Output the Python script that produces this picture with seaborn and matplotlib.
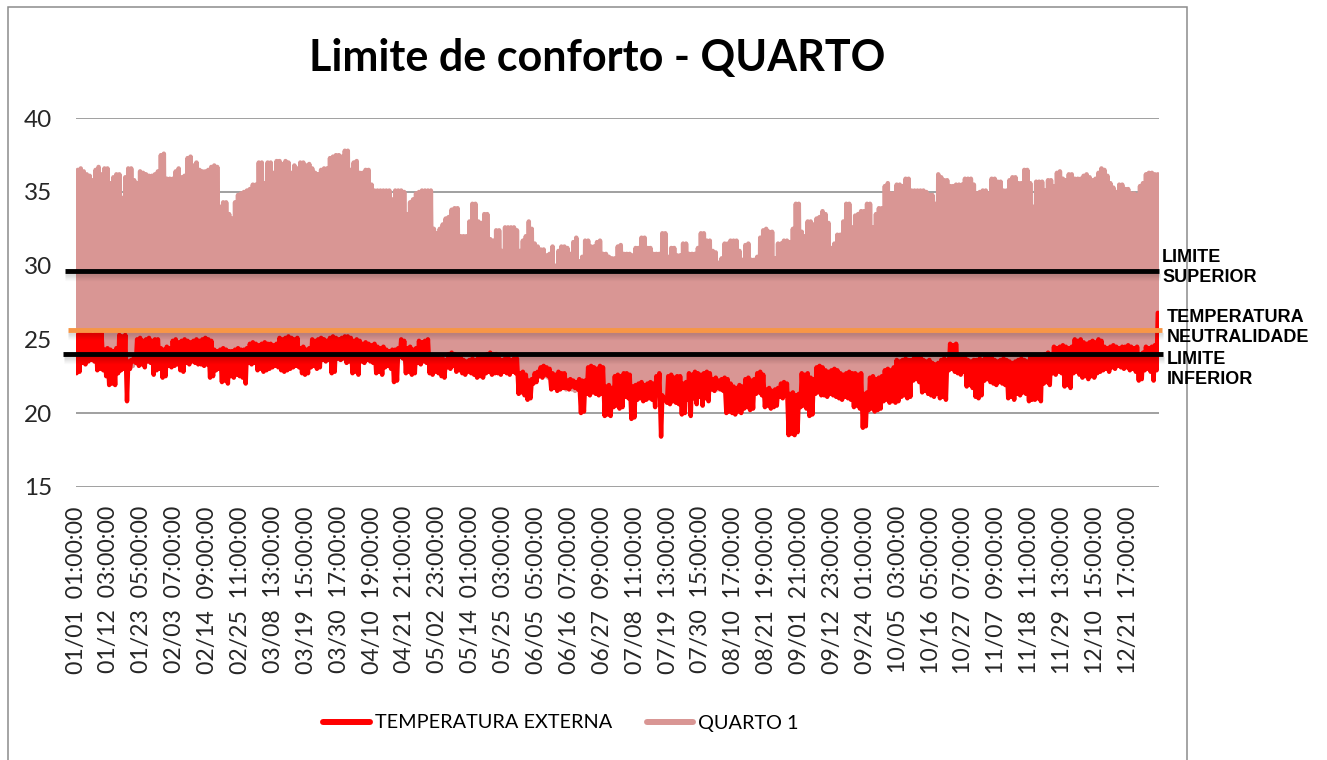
import numpy as np
import pandas as pd
import matplotlib
matplotlib.use("Agg")
import matplotlib.pyplot as plt
import matplotlib.transforms as mtransforms
from matplotlib.lines import Line2D
from matplotlib.patches import Rectangle
import seaborn as sns

# ---------------------------------------------------------------- data
TITLE = "Limite de conforto - QUARTO"
NAME_EXT = "TEMPERATURA EXTERNA"
NAME_ROOM = "QUARTO 1"
YTICKS = [15, 20, 25, 30, 35, 40]
XTICK_LABELS = [
    "01/01  01:00:00", "01/12  03:00:00", "01/23  05:00:00", "02/03  07:00:00",
    "02/14  09:00:00", "02/25  11:00:00", "03/08  13:00:00", "03/19  15:00:00",
    "03/30  17:00:00", "04/10  19:00:00", "04/21  21:00:00", "05/02  23:00:00",
    "05/14  01:00:00", "05/25  03:00:00", "06/05  05:00:00", "06/16  07:00:00",
    "06/27  09:00:00", "07/08  11:00:00", "07/19  13:00:00", "07/30  15:00:00",
    "08/10  17:00:00", "08/21  19:00:00", "09/01  21:00:00", "09/12  23:00:00",
    "09/24  01:00:00", "10/05  03:00:00", "10/16  05:00:00", "10/27  07:00:00",
    "11/07  09:00:00", "11/18  11:00:00", "11/29  13:00:00", "12/10  15:00:00",
    "12/21  17:00:00",
]
LABEL_INTERVAL = 266          # hours between category labels
N_HOURS = 8760

LIMITE_SUPERIOR = 29.65
TEMP_NEUTRALIDADE = 25.6
LIMITE_INFERIOR = 24.0

# daily maximum of the room temperature (QUARTO 1), 1 Jan .. 31 Dec
QUARTO_MAX = [
    36.5, 36.6, 36.4, 36.2, 36.1, 35.8, 36.5, 36.7, 36.2, 36.6,
    36.6, 35.6, 36.0, 36.2, 36.2, 34.6, 36.0, 36.6, 36.6, 35.8,
    35.6, 36.4, 36.3, 36.2, 36.1, 36.1, 36.2, 36.4, 37.5, 37.6,
    35.9, 35.9, 35.9, 36.4, 36.6, 36.0, 36.1, 37.3, 37.4, 36.8,
    37.0, 36.5, 36.4, 36.4, 36.5, 36.7, 36.8, 36.7, 34.0, 34.3,
    34.3, 33.5, 33.2, 34.3, 34.8, 34.9, 35.0, 35.1, 35.2, 35.5,
    35.5, 37.0, 37.0, 35.6, 37.0, 37.0, 36.3, 37.1, 37.1, 36.9,
    37.1, 37.0, 36.3, 36.8, 36.6, 37.0, 37.0, 36.8, 36.9, 36.6,
    36.3, 36.2, 36.5, 36.6, 36.6, 37.3, 37.4, 37.5, 37.5, 37.4,
    37.8, 37.8, 36.5, 37.0, 37.1, 36.3, 36.3, 36.5, 36.5, 35.5,
    35.1, 35.1, 35.1, 35.1, 35.1, 35.1, 34.5, 35.1, 35.1, 35.1,
    35.0, 33.5, 34.3, 34.5, 34.9, 35.0, 35.1, 35.1, 35.1, 35.1,
    32.5, 32.2, 32.5, 32.8, 33.2, 33.3, 33.8, 33.9, 33.9, 32.0,
    32.0, 32.0, 33.0, 34.2, 34.2, 33.0, 32.9, 33.5, 33.5, 31.8,
    31.7, 32.4, 32.4, 31.0, 32.6, 32.6, 32.6, 32.6, 32.4, 31.0,
    31.7, 32.0, 33.0, 32.5, 31.5, 31.3, 31.1, 31.1, 30.7, 30.8,
    31.3, 30.0, 31.0, 31.3, 31.3, 31.2, 30.8, 31.6, 31.9, 30.3,
    30.6, 31.7, 31.7, 31.3, 31.3, 31.6, 31.7, 30.8, 30.8, 30.6,
    30.5, 30.5, 31.3, 31.4, 30.8, 30.8, 30.8, 30.7, 31.2, 31.2,
    31.9, 31.9, 31.2, 31.2, 30.8, 30.8, 30.8, 32.2, 32.2, 30.6,
    31.2, 31.2, 30.7, 30.7, 31.5, 31.5, 30.8, 30.8, 30.8, 31.2,
    32.2, 32.2, 31.7, 31.7, 31.0, 30.9, 30.2, 30.5, 31.5, 31.5,
    31.7, 31.7, 31.7, 31.0, 30.4, 31.4, 31.5, 30.4, 30.4, 30.6,
    31.9, 32.4, 32.5, 32.3, 32.3, 30.5, 31.5, 31.5, 31.7, 31.7,
    31.6, 32.5, 34.2, 34.2, 32.3, 32.0, 33.0, 33.0, 32.8, 33.2,
    33.3, 33.7, 33.5, 32.9, 31.2, 31.5, 32.1, 32.1, 33.0, 34.2,
    34.2, 32.6, 33.4, 33.5, 33.7, 33.7, 34.2, 34.2, 32.6, 33.5,
    33.9, 33.9, 35.4, 35.6, 34.9, 34.9, 35.5, 35.5, 35.4, 35.9,
    35.9, 35.1, 35.1, 35.1, 35.1, 35.1, 35.0, 34.8, 34.8, 34.2,
    36.2, 36.0, 35.8, 35.8, 35.4, 35.4, 35.5, 35.5, 35.5, 35.9,
    35.9, 35.9, 35.5, 34.9, 35.0, 35.1, 35.1, 34.9, 35.9, 35.9,
    35.7, 35.7, 35.1, 35.1, 35.8, 36.0, 36.0, 35.6, 35.6, 36.5,
    36.5, 35.6, 34.0, 35.7, 35.7, 35.7, 35.1, 35.8, 35.8, 35.4,
    36.3, 36.4, 35.9, 35.8, 36.2, 36.2, 35.9, 35.9, 35.9, 36.1,
    36.2, 36.0, 35.8, 35.9, 36.3, 36.6, 36.5, 36.1, 35.6, 35.3,
    35.0, 35.5, 35.5, 35.2, 35.2, 34.9, 34.9, 34.8, 35.4, 35.6,
    36.2, 36.3, 36.3, 36.2, 36.2,
]

# daily minimum of the room temperature (QUARTO 1)
QUARTO_MIN = [
    24.7, 24.9, 24.8, 24.8, 24.9, 24.7, 24.8, 24.9, 24.8, 23.7,
    23.8, 23.7, 23.6, 23.8, 24.7, 24.6, 24.7, 22.9, 23.0, 23.2,
    24.4, 24.5, 24.3, 24.4, 24.5, 24.3, 24.4, 24.4, 23.8, 23.7,
    23.9, 23.8, 24.3, 24.4, 24.2, 24.3, 24.4, 24.3, 24.2, 24.3,
    24.4, 24.3, 24.4, 24.5, 24.4, 24.3, 23.7, 23.6, 23.7, 23.8,
    23.7, 23.6, 23.6, 23.7, 23.8, 23.7, 23.7, 23.8, 24.1, 24.2,
    24.1, 24.0, 24.1, 24.2, 24.1, 24.1, 24.0, 24.1, 24.5, 24.4,
    24.5, 24.6, 24.5, 24.4, 24.5, 23.8, 23.9, 23.7, 23.8, 24.4,
    24.3, 24.4, 24.5, 24.4, 24.3, 24.5, 24.6, 24.5, 24.4, 24.5,
    24.6, 24.6, 24.5, 24.3, 24.4, 24.3, 24.1, 24.2, 24.1, 24.0,
    24.1, 23.9, 23.8, 23.9, 23.7, 23.6, 23.7, 23.7, 23.8, 24.4,
    24.3, 23.8, 23.9, 23.7, 23.8, 24.3, 24.2, 24.3, 24.4, 23.2,
    23.3, 23.2, 23.1, 23.1, 23.0, 23.4, 23.5, 23.4, 23.2, 23.2,
    23.0, 22.9, 23.0, 23.1, 23.0, 23.2, 23.3, 23.2, 23.4, 23.5,
    23.4, 23.4, 23.1, 23.0, 23.1, 23.2, 23.0, 23.1, 23.1, 22.1,
    22.2, 22.0, 21.6, 21.7, 22.1, 22.2, 22.5, 22.6, 22.5, 22.4,
    22.1, 22.0, 22.2, 22.1, 22.1, 21.6, 21.7, 21.6, 21.5, 21.7,
    21.6, 21.6, 22.5, 22.6, 22.5, 22.4, 22.6, 22.5, 21.2, 21.3,
    21.1, 21.9, 22.0, 21.9, 22.1, 22.1, 22.0, 21.2, 21.3, 21.4,
    21.5, 21.3, 21.4, 21.5, 21.4, 21.9, 22.1, 20.6, 20.95, 21.9,
    22.0, 21.8, 21.9, 21.9, 21.4, 21.5, 22.1, 22.0, 22.2, 22.1,
    22.0, 22.1, 22.2, 22.1, 21.7, 21.8, 21.6, 21.7, 21.8, 21.7,
    21.4, 21.2, 21.1, 21.3, 21.2, 21.7, 21.8, 21.6, 21.7, 22.1,
    22.2, 22.0, 21.0, 21.1, 20.9, 21.0, 21.1, 21.4, 21.5, 21.4,
    20.7, 20.8, 20.6, 20.7, 22.1, 22.0, 22.1, 21.8, 21.7, 22.5,
    22.6, 22.5, 22.3, 22.2, 22.3, 22.4, 22.3, 22.1, 22.0, 22.1,
    22.2, 22.1, 22.1, 22.0, 22.1, 20.7, 20.8, 21.8, 21.9, 21.7,
    21.8, 21.9, 22.3, 22.4, 22.3, 22.5, 23.0, 22.9, 23.0, 23.1,
    23.0, 23.0, 23.2, 23.3, 23.2, 23.0, 22.9, 23.0, 22.8, 22.7,
    22.8, 23.0, 23.1, 23.0, 24.1, 24.0, 24.1, 23.2, 23.3, 23.2,
    23.0, 22.9, 23.0, 23.0, 23.1, 23.0, 23.2, 23.3, 23.2, 23.0,
    22.9, 23.0, 23.1, 23.0, 22.9, 22.8, 22.9, 23.0, 23.1, 23.0,
    22.9, 23.2, 23.3, 23.2, 23.2, 23.3, 23.4, 23.5, 23.4, 23.9,
    23.8, 23.9, 24.0, 23.9, 23.8, 23.9, 24.4, 24.3, 24.4, 24.2,
    24.1, 24.2, 24.3, 24.2, 24.4, 24.3, 23.9, 23.8, 23.9, 24.0,
    23.9, 23.8, 23.9, 23.9, 24.0, 23.9, 23.8, 23.9, 23.4, 23.5,
    23.9, 23.8, 23.9, 24.0, 24.0,
]

# daily maximum of the outdoor temperature
EXTERNA_MAX = [
    25.3, 25.5, 25.4, 25.4, 25.5, 25.3, 25.4, 25.5, 25.4, 24.3,
    24.4, 24.3, 24.2, 24.4, 25.3, 25.2, 25.3, 23.5, 23.6, 23.8,
    25.0, 25.1, 24.9, 25.0, 25.1, 24.9, 25.0, 25.0, 24.4, 24.3,
    24.5, 24.4, 24.9, 25.0, 24.8, 24.9, 25.0, 24.9, 24.8, 24.9,
    25.0, 24.9, 25.0, 25.1, 25.0, 24.9, 24.3, 24.2, 24.3, 24.4,
    24.3, 24.2, 24.2, 24.3, 24.4, 24.3, 24.3, 24.4, 24.7, 24.8,
    24.7, 24.6, 24.7, 24.8, 24.7, 24.7, 24.6, 24.7, 25.1, 25.0,
    25.1, 25.2, 25.1, 25.0, 25.1, 24.4, 24.5, 24.3, 24.4, 25.0,
    24.9, 25.0, 25.1, 25.0, 24.9, 25.1, 25.2, 25.1, 25.0, 25.1,
    25.2, 25.2, 25.1, 24.9, 25.0, 24.9, 24.7, 24.8, 24.7, 24.6,
    24.7, 24.5, 24.4, 24.5, 24.3, 24.2, 24.3, 24.3, 24.4, 25.0,
    24.9, 24.4, 24.5, 24.3, 24.4, 24.9, 24.8, 24.9, 25.0, 23.8,
    23.9, 23.8, 23.7, 23.7, 23.6, 24.0, 24.1, 24.0, 23.8, 23.8,
    23.6, 23.5, 23.6, 23.7, 23.6, 23.8, 23.9, 23.8, 24.0, 24.1,
    24.0, 24.0, 23.7, 23.6, 23.7, 23.8, 23.6, 23.7, 23.7, 22.7,
    22.8, 22.6, 22.2, 22.3, 22.7, 22.8, 23.1, 23.2, 23.1, 23.0,
    22.7, 22.6, 22.8, 22.7, 22.7, 22.2, 22.3, 22.2, 22.1, 22.3,
    22.2, 22.2, 23.1, 23.2, 23.1, 23.0, 23.2, 23.1, 21.8, 21.9,
    21.7, 22.5, 22.6, 22.5, 22.7, 22.7, 22.6, 21.8, 21.9, 22.0,
    22.1, 21.9, 22.0, 22.1, 22.0, 22.5, 22.7, 21.2, 21.0, 22.5,
    22.6, 22.4, 22.5, 22.5, 22.0, 22.1, 22.7, 22.6, 22.8, 22.7,
    22.6, 22.7, 22.8, 22.7, 22.3, 22.4, 22.2, 22.3, 22.4, 22.3,
    22.0, 21.8, 21.7, 21.9, 21.8, 22.3, 22.4, 22.2, 22.3, 22.7,
    22.8, 22.6, 21.6, 21.7, 21.5, 21.6, 21.7, 22.0, 22.1, 22.0,
    21.3, 21.4, 21.2, 21.3, 22.7, 22.6, 22.7, 22.4, 22.3, 23.1,
    23.2, 23.1, 22.9, 22.8, 22.9, 23.0, 22.9, 22.7, 22.6, 22.7,
    22.8, 22.7, 22.7, 22.6, 22.7, 21.3, 21.4, 22.4, 22.5, 22.3,
    22.4, 22.5, 22.9, 23.0, 22.9, 23.1, 23.6, 23.5, 23.6, 23.7,
    23.6, 23.6, 23.8, 23.9, 23.8, 23.6, 23.5, 23.6, 23.4, 23.3,
    23.4, 23.6, 23.7, 23.6, 24.7, 24.6, 24.7, 23.8, 23.9, 23.8,
    23.6, 23.5, 23.6, 23.6, 23.7, 23.6, 23.8, 23.9, 23.8, 23.6,
    23.5, 23.6, 23.7, 23.6, 23.5, 23.4, 23.5, 23.6, 23.7, 23.6,
    23.5, 23.8, 23.9, 23.8, 23.8, 23.9, 24.0, 24.1, 24.0, 24.5,
    24.4, 24.5, 24.6, 24.5, 24.4, 24.5, 25.0, 24.9, 25.0, 24.8,
    24.7, 24.8, 24.9, 24.8, 25.0, 24.9, 24.5, 24.4, 24.5, 24.6,
    24.5, 24.4, 24.5, 24.5, 24.6, 24.5, 24.4, 24.5, 24.0, 24.1,
    24.5, 24.4, 24.5, 24.6, 26.8,
]

# daily minimum of the outdoor temperature
EXTERNA_MIN = [
    22.7, 22.8, 23.4, 23.3, 23.5, 23.6, 23.5, 22.9, 23.0, 22.9,
    22.5, 21.9, 22.0, 21.9, 22.7, 22.9, 23.0, 20.8, 23.0, 23.5,
    23.4, 23.2, 23.3, 23.1, 23.5, 23.4, 22.6, 22.9, 23.0, 22.4,
    22.5, 23.2, 23.1, 23.2, 23.3, 22.9, 22.8, 23.4, 23.3, 23.5,
    23.4, 23.3, 23.3, 23.2, 23.3, 22.4, 22.5, 22.9, 23.0, 22.1,
    22.2, 22.0, 22.5, 22.4, 22.6, 22.5, 22.4, 22.0, 23.4, 23.3,
    23.4, 22.9, 23.0, 22.8, 22.9, 23.0, 23.1, 23.2, 23.1, 22.9,
    22.8, 22.9, 23.0, 23.1, 23.2, 23.1, 22.7, 22.6, 22.7, 23.1,
    23.2, 23.0, 23.1, 23.6, 23.5, 23.6, 22.7, 22.8, 23.7, 23.6,
    23.7, 23.4, 23.5, 22.7, 22.8, 22.6, 23.5, 23.4, 23.6, 23.5,
    23.4, 22.7, 22.8, 22.6, 23.1, 23.2, 23.0, 22.1, 22.2, 23.8,
    23.7, 22.7, 22.8, 22.6, 22.7, 23.4, 23.3, 23.5, 23.4, 22.7,
    22.6, 22.8, 22.7, 22.5, 22.4, 23.1, 23.0, 23.2, 22.8, 22.9,
    22.7, 22.6, 22.8, 22.7, 22.6, 22.4, 22.5, 22.4, 22.7, 22.8,
    22.6, 22.7, 22.7, 22.6, 22.8, 22.7, 22.6, 22.8, 22.7, 21.3,
    21.4, 21.2, 20.9, 21.0, 22.0, 22.1, 22.5, 22.4, 22.6, 22.5,
    21.6, 21.7, 21.5, 21.6, 21.7, 21.7, 21.6, 21.8, 21.7, 21.6,
    20.0, 20.1, 21.3, 21.2, 21.4, 21.3, 21.2, 21.3, 19.8, 19.9,
    19.8, 20.4, 20.5, 20.3, 20.4, 21.1, 21.0, 19.6, 19.7, 20.9,
    21.0, 20.8, 20.9, 21.0, 20.9, 20.4, 21.3, 18.4, 20.9, 20.7,
    20.6, 20.8, 20.7, 20.6, 19.9, 20.0, 20.9, 19.8, 21.0, 20.6,
    21.1, 20.5, 21.0, 20.8, 21.6, 21.5, 21.7, 21.6, 21.5, 20.0,
    20.1, 20.0, 19.9, 20.1, 20.0, 20.3, 20.4, 20.2, 20.3, 21.3,
    21.4, 21.2, 20.4, 20.5, 20.3, 20.4, 20.5, 21.1, 21.0, 21.2,
    18.5, 18.6, 18.5, 18.7, 20.4, 20.5, 20.3, 19.8, 19.9, 21.3,
    21.4, 21.2, 21.2, 21.1, 21.3, 21.2, 21.1, 21.0, 20.9, 21.1,
    21.0, 20.9, 20.4, 20.5, 20.3, 19.0, 19.1, 20.2, 20.3, 20.1,
    20.2, 20.3, 20.8, 20.9, 20.7, 20.8, 20.7, 20.8, 21.1, 21.2,
    21.0, 21.1, 22.2, 22.3, 22.1, 21.4, 21.5, 21.3, 21.2, 21.1,
    21.3, 21.0, 21.1, 20.9, 22.9, 23.0, 22.8, 22.7, 22.6, 22.8,
    21.8, 21.9, 21.7, 21.1, 21.0, 21.2, 22.2, 22.3, 22.1, 22.0,
    21.9, 22.1, 22.0, 21.9, 21.0, 21.1, 20.9, 21.3, 21.2, 21.4,
    21.3, 20.8, 20.9, 20.9, 21.0, 20.8, 22.0, 22.1, 21.9, 22.7,
    22.6, 22.8, 22.7, 21.8, 21.9, 21.7, 22.7, 22.8, 22.6, 22.4,
    22.5, 22.3, 22.5, 22.4, 22.7, 22.8, 22.9, 23.0, 22.8, 23.1,
    23.0, 23.2, 23.1, 23.0, 23.1, 22.9, 23.0, 22.8, 22.2, 22.3,
    22.9, 23.0, 22.8, 22.2, 22.9,
]

for arr in (QUARTO_MAX, QUARTO_MIN, EXTERNA_MAX, EXTERNA_MIN):
    assert len(arr) == 365, len(arr)

# ---------------------------------------------------------------- style
W, H, DPI = 1327, 760, 100
ROOM_COLOR = "#D99694"
EXT_COLOR = "#FF0000"
ORANGE = "#F79646"
GRID = "#868686"
FONT = ["Lato", "DejaVu Sans"]

sns.set_style("white")
plt.rcParams["font.family"] = FONT
plt.rcParams["text.color"] = "black"


def fx(px):
    return px / W


def fy(py):
    return 1 - py / H


# hourly category index: min reading early morning, max in the afternoon
def daily_frame(lo, hi, name):
    days = np.arange(len(lo))
    hours = np.column_stack([days * 24 + 4, days * 24 + 14]).ravel()
    temps = np.column_stack([lo, hi]).ravel()
    return pd.DataFrame({"hora": hours, "temperatura": temps, "serie": name})


room = daily_frame(QUARTO_MIN, QUARTO_MAX, NAME_ROOM)
ext = daily_frame(EXTERNA_MIN, EXTERNA_MAX, NAME_EXT)

fig = plt.figure(figsize=(W / DPI, H / DPI), dpi=DPI)
ax = fig.add_axes([fx(76), fy(486.7), fx(1159) - fx(76), fy(118.3) - fy(486.7)])

line_kw = dict(linewidth=3.2, solid_joinstyle="round", solid_capstyle="round",
               estimator=None, sort=False, legend=False)
sns.lineplot(data=room, x="hora", y="temperatura", color=ROOM_COLOR, ax=ax,
             zorder=2, **line_kw)
sns.lineplot(data=ext, x="hora", y="temperatura", color=EXT_COLOR, ax=ax,
             zorder=3, **line_kw)

ax.set_xlim(-0.5, N_HOURS - 0.5)
ax.set_ylim(YTICKS[0], YTICKS[-1])
ax.set_yticks(YTICKS)
ax.set_yticklabels([str(v) for v in YTICKS])
ax.set_xticks(np.arange(0, N_HOURS, LABEL_INTERVAL))
ax.set_xticklabels(XTICK_LABELS, rotation=90, va="top", ha="center")
ax.set_xlabel("")
ax.set_ylabel("")
ax.tick_params(axis="y", length=0, pad=17, labelsize=17.5)
ax.tick_params(axis="x", length=0, pad=14, labelsize=16.6)
for s in ax.spines.values():
    s.set_visible(False)
ax.yaxis.grid(True, color=GRID, linewidth=1.1, zorder=0)
ax.xaxis.grid(False)
ax.set_axisbelow(True)
ax.set_facecolor("none")

# comfort limits drawn as horizontal bars with a soft drop shadow
ytr = ax.get_yaxis_transform()
limits = [
    (LIMITE_SUPERIOR, "black", -0.0102, 1.0),
    (TEMP_NEUTRALIDADE, ORANGE, -0.0074, 1.0028),
    (LIMITE_INFERIOR, "black", -0.012, 1.0037),
]
for val, col, x0, x1 in limits:
    for k in range(3, 10):
        tr = mtransforms.offset_copy(ytr, fig=fig, x=0.5, y=-k, units="dots")
        ax.plot([x0, x1], [val, val], transform=tr, color="black",
                alpha=0.13 * (10 - k) / 7, linewidth=0.9, clip_on=False,
                solid_capstyle="butt", zorder=4)
    ax.plot([x0, x1], [val, val], transform=ytr, color=col, linewidth=3.5,
            clip_on=False, solid_capstyle="butt", zorder=5)

# labels of the limit lines (baseline given for the second text line)
lab_kw = dict(fontsize=13, fontweight="bold", family=["Liberation Sans", "DejaVu Sans"],
              ha="left", va="baseline", linespacing=1.25)
fig.text(fx(1162), fy(282), "LIMITE\nSUPERIOR", **lab_kw)
fig.text(fx(1167), fy(342), "TEMPERATURA\nNEUTRALIDADE", **lab_kw)
fig.text(fx(1167), fy(384), "LIMITE\nINFERIOR", **lab_kw)

# title
fig.text(fx(597), fy(71), TITLE, ha="center", va="baseline", fontsize=31,
         fontweight="bold")

# legend
handles = [
    Line2D([], [], color=EXT_COLOR, linewidth=4.3, solid_capstyle="round"),
    Line2D([], [], color=ROOM_COLOR, linewidth=4.3, solid_capstyle="round"),
]
fig.legend(handles, [NAME_EXT, NAME_ROOM], loc="center",
           bbox_to_anchor=(fx(561), fy(723)), ncol=2, frameon=False,
           fontsize=14.3, handlelength=2.35, handletextpad=0.25,
           columnspacing=1.75, borderpad=0.2)

# chart area border
fig.add_artist(Rectangle((fx(7.5), fy(775)), fx(1186.5) - fx(7.5), fy(6.5) - fy(775),
                         transform=fig.transFigure, fill=False, edgecolor="#8C8C8C",
                         linewidth=1.1, clip_on=False))

fig.savefig("out.png", dpi=DPI)
